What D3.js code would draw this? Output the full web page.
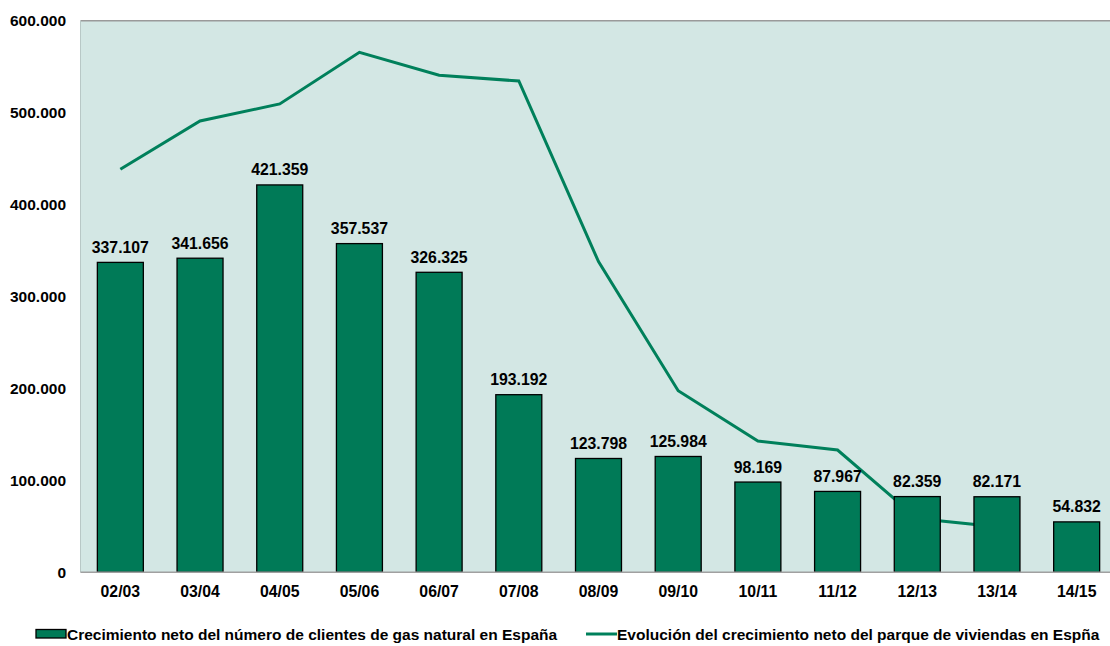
<!DOCTYPE html>
<html><head><meta charset="utf-8">
<script src="https://cdn.jsdelivr.net/npm/d3@7"></script>
<style>
html,body{margin:0;padding:0;background:#fff;overflow:hidden}
text{font-family:"Liberation Sans",Arial,sans-serif;font-weight:bold;fill:#000}
</style></head>
<body><svg id="c" width="1110" height="646"></svg>
<script>
const categories = ["02/03","03/04","04/05","05/06","06/07","07/08","08/09","09/10","10/11","11/12","12/13","13/14","14/15"];
const clientes = [337107,341656,421359,357537,326325,193192,123798,125984,98169,87967,82359,82171,54832];
const viviendas = [438400,490900,509500,565600,540600,534400,337900,197500,142800,133000,58500,49500,null];
const yTicks = [0,100000,200000,300000,400000,500000,600000];
const seriesNames = ["Crecimiento neto del número de clientes de gas natural en España","Evolución del crecimiento neto del parque de viviendas en Espña"];

const locale = d3.formatLocale({decimal:",", thousands:".", grouping:[3], currency:["","€"]});
const fmt = locale.format(",d");

const svg = d3.select("#c");
const L = 80.5, R = 1116.5, T = 20.7, B = 572.3;
const x = d3.scaleBand().domain(categories).range([L,R]).paddingInner(0.423).paddingOuter(0.2115);
const y = d3.scaleLinear().domain([0,600000]).range([B,T]);

const barFill = "#007A57", lineCol = "#00805B";
const FF = "'Liberation Sans',Arial,sans-serif";

svg.append("rect").attr("x",L).attr("y",T).attr("width",R-L).attr("height",B-T).attr("fill","#D3E7E4");
svg.append("line").attr("x1",L).attr("x2",R).attr("y1",T).attr("y2",T).attr("stroke","#9a9a9a").attr("stroke-width",1.5);
svg.append("line").attr("x1",L).attr("x2",L).attr("y1",T).attr("y2",B).attr("stroke","#b8c8c6").attr("stroke-width",1);

// y axis labels
const ya = svg.append("g").attr("transform",`translate(${L},0)`).call(d3.axisLeft(y).tickValues(yTicks).tickFormat(d=>d===0?"0":fmt(d)).tickSize(0).tickPadding(14.5));
ya.select(".domain").remove();
ya.selectAll("text").style("font-size","15.5px").style("font-family",FF).style("font-weight","bold").attr("fill","#000");

// line behind bars
const line = d3.line().defined(d=>d!=null).x((d,i)=>x(categories[i])+x.bandwidth()/2).y(d=>y(d));
svg.append("path").datum(viviendas).attr("d",line).attr("fill","none").attr("stroke",lineCol).attr("stroke-width",3).attr("stroke-linejoin","miter");

// bars
svg.selectAll("rect.bar").data(clientes).join("rect").attr("class","bar")
  .attr("x",(d,i)=>x(categories[i])).attr("width",x.bandwidth())
  .attr("y",d=>y(d)).attr("height",d=>B-y(d))
  .attr("fill",barFill).attr("stroke","#000").attr("stroke-width",1.3);

svg.selectAll("text.val").data(clientes).join("text").attr("class","val")
  .attr("x",(d,i)=>x(categories[i])+x.bandwidth()/2).attr("y",d=>y(d)-9.5)
  .attr("text-anchor","middle").style("font-size","15.8px").text(d=>fmt(d));

// x axis
svg.append("line").attr("x1",L).attr("x2",R).attr("y1",B).attr("y2",B).attr("stroke","#a0a0a0").attr("stroke-width",1.5);
const xa = svg.append("g").attr("transform",`translate(0,${B})`).call(d3.axisBottom(x).tickSize(0).tickPadding(13.5));
xa.select(".domain").remove();
xa.selectAll("text").style("font-size","15.8px").style("font-family",FF).style("font-weight","bold").attr("fill","#000");

// legend
const lg = svg.append("g");
lg.append("rect").attr("x",36).attr("y",629.5).attr("width",30).attr("height",8.5).attr("fill",barFill).attr("stroke","#000").attr("stroke-width",1.3);
lg.append("text").attr("x",67).attr("y",640).style("font-size","15.5px").text(seriesNames[0]);
lg.append("line").attr("x1",586).attr("x2",617).attr("y1",634).attr("y2",634).attr("stroke",lineCol).attr("stroke-width",3);
lg.append("text").attr("x",617).attr("y",640).style("font-size","15.5px").text(seriesNames[1]);
</script></body></html>
